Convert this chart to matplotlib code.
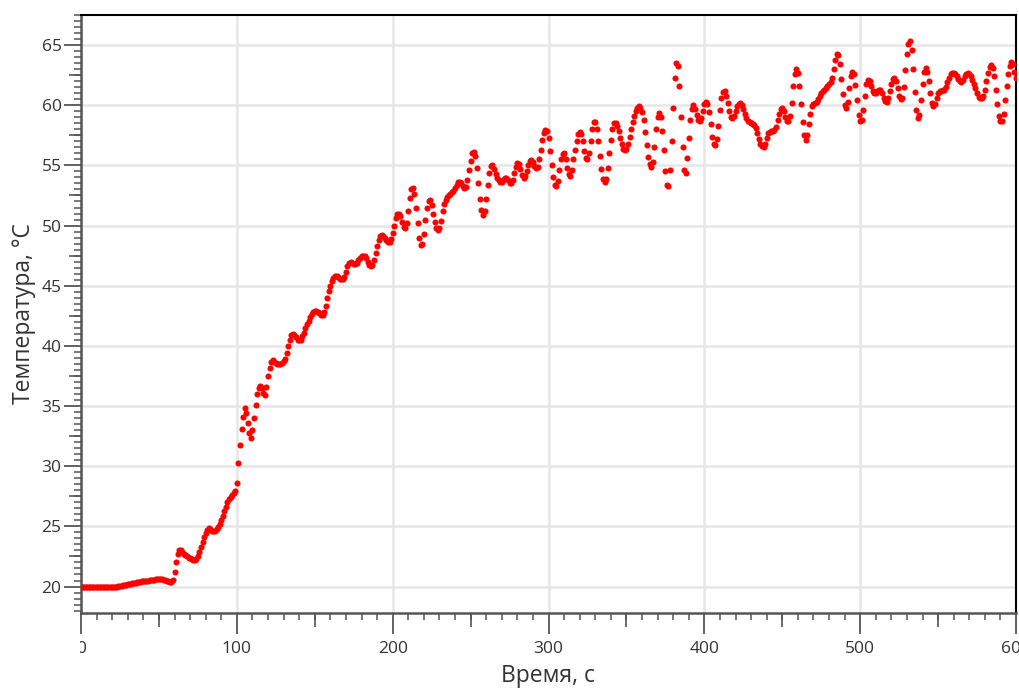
# Temperature log, one reading per second

import numpy as np
import matplotlib.pyplot as plt
from matplotlib.ticker import MultipleLocator
from matplotlib.transforms import Bbox, TransformedBbox

plt.rcParams['font.family'] = ['Open Sans', 'DejaVu Sans']

time_s = np.arange(0, 601)

temp_c = [
    20.0, 20.0, 20.0, 20.0, 20.0, 20.0, 20.0, 20.0, 20.0, 20.0,
    20.0, 20.0, 20.0, 20.0, 20.0, 20.0, 20.0, 20.0, 20.0, 20.0,
    20.0, 20.0, 20.0, 20.0, 20.02, 20.04, 20.06, 20.09, 20.12, 20.15,
    20.18, 20.21, 20.24, 20.27, 20.3, 20.32, 20.35, 20.37, 20.4, 20.42,
    20.44, 20.46, 20.48, 20.5, 20.52, 20.54, 20.56, 20.58, 20.6, 20.6,
    20.6, 20.6, 20.6, 20.58, 20.55, 20.5, 20.42, 20.38, 20.35, 20.55,
    21.2, 22.0, 22.7, 23.05, 23.0, 22.85, 22.7, 22.6, 22.5, 22.4,
    22.35, 22.25, 22.2, 22.2, 22.3, 22.55, 22.9, 23.3, 23.7, 24.1,
    24.45, 24.7, 24.85, 24.8, 24.65, 24.6, 24.6, 24.75, 24.95, 25.2,
    25.5, 25.85, 26.25, 26.65, 27.0, 27.25, 27.45, 27.6, 27.75, 27.9,
    28.6, 30.3, 31.8, 33.1, 34.1, 34.8, 34.4, 33.6, 32.8, 32.35,
    33.0, 34.0, 35.1, 36.0, 36.5, 36.7, 36.5, 36.1, 35.95, 36.6,
    37.5, 38.2, 38.7, 38.85, 38.7, 38.55, 38.5, 38.5, 38.5, 38.6,
    38.75, 38.95, 39.4, 40.0, 40.5, 40.9, 41.0, 40.9, 40.7, 40.5,
    40.45, 40.5, 40.8, 41.1, 41.5, 41.8, 42.1, 42.4, 42.65, 42.85,
    42.9, 42.9, 42.8, 42.7, 42.6, 42.6, 42.8, 43.3, 44.0, 44.6,
    45.0, 45.4, 45.65, 45.8, 45.8, 45.7, 45.6, 45.55, 45.55, 45.7,
    46.1, 46.6, 46.9, 46.95, 46.9, 46.8, 46.8, 46.9, 47.1, 47.3,
    47.45, 47.5, 47.45, 47.3, 47.0, 46.75, 46.6, 46.7, 47.1, 47.7,
    48.3, 48.8, 49.1, 49.2, 49.15, 49.0, 48.8, 48.65, 48.6, 48.9,
    49.4, 50.0, 50.6, 50.95, 51.0, 50.8, 50.3, 49.9, 49.8, 50.2,
    51.2, 52.3, 53.0, 53.1, 52.6, 51.5, 50.2, 49.0, 48.4, 48.5,
    49.3, 50.5, 51.5, 52.0, 52.1, 51.7, 51.0, 50.3, 49.8, 49.65,
    49.8, 50.4, 51.2, 51.8, 52.1, 52.35, 52.5, 52.6, 52.75, 52.85,
    53.1, 53.4, 53.6, 53.65, 53.5, 53.3, 53.1, 53.2, 53.8, 54.6,
    55.4, 56.0, 56.15, 55.8, 54.8, 53.5, 52.2, 51.3, 50.9, 51.2,
    52.2, 53.4, 54.4, 54.95, 55.0, 54.7, 54.3, 53.95, 53.75, 53.65,
    53.65, 53.8, 53.95, 53.95, 53.8, 53.55, 53.5, 53.8, 54.4, 54.9,
    55.2, 55.1, 54.7, 54.2, 53.95, 54.1, 54.5, 55.0, 55.35, 55.45,
    55.3, 54.95, 54.75, 54.9, 55.5, 56.3, 57.1, 57.7, 57.95, 57.9,
    57.3, 56.2, 55.0, 54.0, 53.4, 53.25, 53.7, 54.6, 55.5, 55.95,
    56.0, 55.5, 54.8, 54.3, 54.15, 54.6, 55.5, 56.3, 57.0, 57.6,
    57.8, 57.6, 57.0, 56.2, 55.6, 55.5, 56.0, 57.0, 58.0, 58.6,
    58.6, 58.0, 57.0, 55.8, 54.7, 53.9, 53.65, 53.9, 54.8, 56.0,
    57.1, 58.0, 58.5, 58.55, 58.3, 57.9, 57.3, 56.8, 56.4, 56.3,
    56.4, 56.8, 57.4, 58.0, 58.6, 59.1, 59.5, 59.8, 59.9, 59.8,
    59.4, 58.8, 57.8, 56.7, 55.7, 55.1, 54.9, 55.3, 56.5, 58.0,
    59.0, 59.35, 59.0, 57.9, 56.3, 54.5, 53.4, 53.3, 54.6, 57.0,
    59.8, 62.3, 63.5, 63.3, 61.6, 59.0, 56.5, 54.6, 54.4, 55.6,
    57.3, 58.8, 59.7, 60.0, 59.7, 59.2, 58.8, 58.65, 58.9, 59.5,
    60.1, 60.3, 60.1, 59.4, 58.4, 57.4, 56.8, 56.7, 57.2, 58.3,
    59.6, 60.6, 61.1, 61.15, 60.8, 60.2, 59.5, 59.0, 58.9, 59.1,
    59.5, 59.9, 60.1, 60.15, 60.0, 59.7, 59.3, 58.9, 58.7, 58.6,
    58.5, 58.4, 58.35, 58.1, 57.7, 57.2, 56.8, 56.6, 56.55, 56.8,
    57.3, 57.7, 57.8, 57.85, 57.9, 57.95, 58.2, 58.8, 59.3, 59.65,
    59.75, 59.5, 59.0, 58.7, 58.65, 59.1, 60.2, 61.6, 62.6, 63.0,
    62.7, 61.6, 60.1, 58.6, 57.5, 57.1, 57.5, 58.4, 59.3, 59.9,
    60.1, 60.2, 60.3, 60.5, 60.8, 61.0, 61.2, 61.3, 61.45, 61.6,
    61.8, 61.9, 62.3, 63.0, 63.8, 64.3, 64.2, 63.4, 62.2, 60.9,
    60.0, 59.75, 60.3, 61.4, 62.4, 62.8, 62.6, 61.7, 60.4, 59.2,
    58.7, 58.8, 59.6, 60.8, 61.8, 62.1, 62.0, 61.6, 61.2, 61.0,
    61.05, 61.2, 61.3, 61.3, 61.0, 60.6, 60.35, 60.3, 60.6, 61.2,
    61.8, 62.15, 62.25, 62.0, 61.4, 60.8, 60.5, 60.6, 61.5, 62.9,
    64.3, 65.1, 65.3, 64.6, 63.0, 61.1, 59.6, 58.9, 59.2, 60.4,
    61.8, 62.8, 63.1, 62.8, 62.0, 61.0, 60.2, 59.9, 60.1, 60.6,
    61.0, 61.15, 61.2, 61.25, 61.3, 61.5, 61.9, 62.3, 62.6, 62.7,
    62.7, 62.6, 62.4, 62.2, 62.0, 61.95, 62.1, 62.4, 62.6, 62.7,
    62.6, 62.4, 62.1, 61.8, 61.4, 61.0, 60.7, 60.6, 60.6, 60.8,
    61.3, 62.0, 62.7, 63.2, 63.35, 63.1, 62.4, 61.3, 60.1, 59.1,
    58.7, 58.7, 59.3, 60.4, 61.6, 62.6, 63.3, 63.6, 63.4, 62.8,
    62.3,
]

x_ticks = [0, 100, 200, 300, 400, 500, 600]
y_ticks = [20, 25, 30, 35, 40, 45, 50, 55, 60, 65]

axis_gray = '#555555'
text_gray = '#333333'

fig = plt.figure(figsize=(10.2, 6.88), dpi=100)
ax = fig.add_axes([81/1020, 75/688, 935/1020, 598/688])

ax.plot(time_s, temp_c, 'o', color='#ff0000', ms=4.4, mec='none', zorder=3)

ax.set_xlim(0, 600)
ax.set_ylim(17.8, 67.5)
ax.set_xticks(x_ticks)
ax.set_yticks(y_ticks)
ax.xaxis.set_minor_locator(MultipleLocator(10))
ax.yaxis.set_minor_locator(MultipleLocator(0.5))

ax.grid(True, which='major', color='#e6e6e6', lw=1.8, zorder=0)
ax.set_axisbelow(True)

ax.tick_params(which='major', length=12, width=1.3, color=axis_gray,
               labelsize=12.5, labelcolor=text_gray, pad=2)
ax.tick_params(which='minor', length=5, width=1.1, color=axis_gray)
ax.tick_params(axis='x', which='major', length=15, pad=5)

# half-step ticks (50 s, 2.5 degrees) drawn a bit longer than the minor ones
secx = ax.secondary_xaxis('bottom')
secx.set_xticks(np.arange(50, 600, 100))
secx.tick_params(length=10, width=1.2, color=axis_gray, labelbottom=False)
secx.spines['bottom'].set_visible(False)
secy = ax.secondary_yaxis('left')
secy.set_yticks(np.arange(22.5, 67.5, 5))
secy.tick_params(length=9, width=1.2, color=axis_gray, labelleft=False)
secy.spines['left'].set_visible(False)

for side in ['left', 'bottom']:
    ax.spines[side].set_color(axis_gray)
    ax.spines[side].set_linewidth(1.8)
for side in ['top', 'right']:
    ax.spines[side].set_color('black')
    ax.spines[side].set_linewidth(1.5)

ax.set_xlabel('Время, с', fontsize=16.5, color=text_gray, labelpad=5)
ax.set_ylabel('Температура, °C', fontsize=16.5, color=text_gray, labelpad=4)

# x labels are cut off just left of the plot area
clip = TransformedBbox(Bbox([[80/1020, 0], [1, 1]]), fig.transFigure)
for tick in ax.xaxis.get_major_ticks():
    tick.label1.set_clip_on(True)
    tick.label1.set_clip_box(clip)

fig.savefig('out.png', dpi=100)
